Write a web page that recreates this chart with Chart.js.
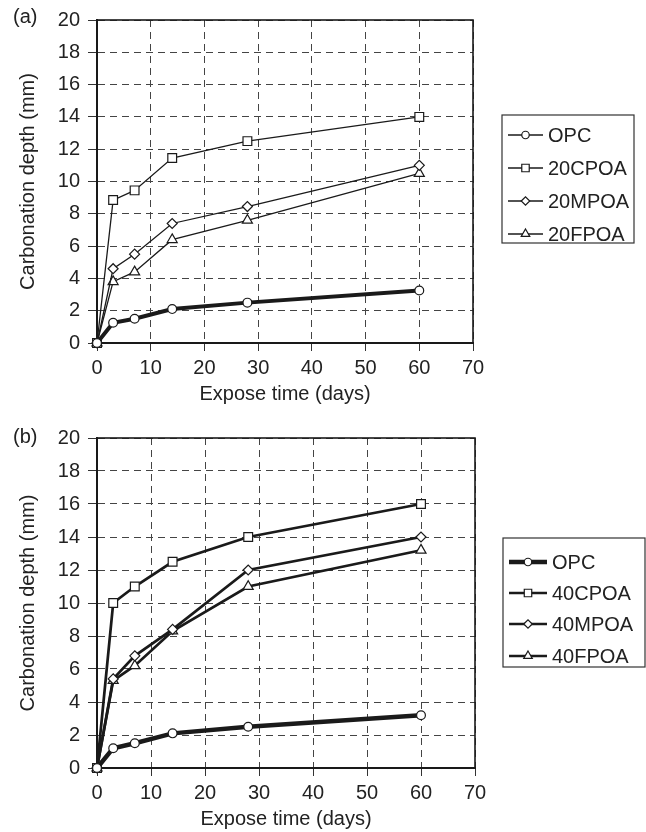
<!DOCTYPE html>
<html>
<head>
<meta charset="utf-8">
<script src="https://cdn.jsdelivr.net/npm/chart.js@4/dist/chart.umd.min.js"></script>
<style>
  body { margin: 0; background: #fff; }
  .panel { position: absolute; left: 0; width: 646px; height: 416px; }
  .tag { position: absolute; left: 13px; top: 5px; font: 20px "Liberation Sans", Arial, sans-serif; color: #222; }
</style>
</head>
<body>
<div class="panel" style="top:0">
  <canvas id="chartA" width="646" height="416"></canvas>
  <div class="tag">(a)</div>
</div>
<div class="panel" style="top:416px">
  <canvas id="chartB" width="646" height="416"></canvas>
  <div class="tag" style="top:9px">(b)</div>
</div>
<script>
const DAYS = [0, 3, 7, 14, 28, 60];
const X_TICKS = [0, 10, 20, 30, 40, 50, 60, 70];
const Y_TICKS = [0, 2, 4, 6, 8, 10, 12, 14, 16, 18, 20];

// panel (a)
const LABELS_A = ['OPC', '20CPOA', '20MPOA', '20FPOA'];
const OPC_A = [0, 1.25, 1.5, 2.1, 2.5, 3.25];
const CPOA_20 = [0, 8.85, 9.45, 11.45, 12.5, 14];
const MPOA_20 = [0, 4.6, 5.5, 7.4, 8.45, 11];
const FPOA_20 = [0, 3.8, 4.4, 6.4, 7.6, 10.5];

// panel (b)
const LABELS_B = ['OPC', '40CPOA', '40MPOA', '40FPOA'];
const OPC_B = [0, 1.2, 1.5, 2.1, 2.5, 3.2];
const CPOA_40 = [0, 10, 11, 12.5, 14, 16];
const MPOA_40 = [0, 5.4, 6.8, 8.4, 12, 14];
const FPOA_40 = [0, 5.3, 6.2, 8.3, 11, 13.2];

const FONT = '"Liberation Sans", Arial, sans-serif';
const INK = '#1a1a1a';
const MARKERS = [
  { pointStyle: 'circle', radius: 4.4 },
  { pointStyle: 'rect', radius: 6.2 },
  { pointStyle: 'rectRot', radius: 5 },
  { pointStyle: 'triangle', radius: 5.8 },
];

const frame = {
  id: 'frame',
  beforeDatasetsDraw(chart) {
    const { ctx, chartArea: a } = chart;
    ctx.save();
    ctx.strokeStyle = INK;
    ctx.lineWidth = 1.6;
    ctx.strokeRect(a.left, a.top, a.right - a.left, a.bottom - a.top);
    ctx.restore();
  },
};

// boxed legend with line + marker samples
const boxLegend = {
  id: 'boxLegend',
  afterDraw(chart, args, opts) {
    const { ctx } = chart;
    ctx.save();
    ctx.strokeStyle = '#333';
    ctx.lineWidth = 1.2;
    ctx.strokeRect(opts.x, opts.y, opts.w, opts.h);
    ctx.font = '20px ' + FONT;
    ctx.textBaseline = 'middle';
    chart.data.datasets.forEach((ds, i) => {
      const y = opts.rows[i];
      const mid = (opts.x0 + opts.x1) / 2;
      ctx.strokeStyle = INK;
      ctx.lineWidth = opts.widths[i];
      ctx.beginPath();
      ctx.moveTo(opts.x0, y);
      ctx.lineTo(opts.x1, y);
      ctx.stroke();
      ctx.fillStyle = '#fff';
      ctx.lineWidth = 1.2;
      Chart.helpers.drawPoint(ctx, {
        pointStyle: ds.pointStyle,
        radius: ds.pointRadius * 0.85,
        borderWidth: 1.2,
      }, mid, y);
      ctx.fillStyle = '#222';
      ctx.fillText(ds.label, opts.textX, y + 1);
    });
    ctx.restore();
  },
};

const buildChart = (id, labels, series, widths, geom) => {
  const datasets = series.map((values, i) => ({
    label: labels[i],
    data: values.map((v, j) => ({ x: DAYS[j], y: v })),
    borderColor: INK,
    borderWidth: widths[i],
    pointStyle: MARKERS[i].pointStyle,
    pointRadius: MARKERS[i].radius,
    pointBackgroundColor: '#fff',
    pointBorderColor: INK,
    pointBorderWidth: 1.2,
    clip: false,
  }));

  return new Chart(document.getElementById(id), {
    type: 'line',
    data: { datasets },
    plugins: [frame, boxLegend],
    options: {
      responsive: false,
      animation: false,
      devicePixelRatio: 1,
      layout: { padding: { top: geom.top, right: geom.right, left: 0, bottom: 0 } },
      plugins: {
        legend: { display: false },
        tooltip: { enabled: false },
        boxLegend: geom.legend,
      },
      scales: {
        x: {
          type: 'linear',
          min: 0,
          max: 70,
          afterBuildTicks: (s) => { s.ticks = X_TICKS.map(v => ({ value: v })); },
          afterFit: (s) => { s.height = geom.xHeight; },
          ticks: { color: '#222', font: { family: FONT, size: 20 }, padding: 5, maxRotation: 0 },
          grid: { color: '#444', lineWidth: 1, tickLength: 8, tickColor: '#333' },
          border: { color: INK, width: 2, dash: [7, 5] },
          title: {
            display: true,
            text: 'Expose time (days)',
            color: '#222',
            font: { family: FONT, size: 20 },
            padding: { top: 0, bottom: geom.titlePad },
          },
        },
        y: {
          min: 0,
          max: 20,
          afterBuildTicks: (s) => { s.ticks = Y_TICKS.map(v => ({ value: v })); },
          afterFit: (s) => { s.width = 97; },
          ticks: { color: '#222', font: { family: FONT, size: 20 }, padding: 8 },
          grid: { color: '#444', lineWidth: 1, tickLength: 9, tickColor: '#333' },
          border: { color: INK, width: 2, dash: [7, 5] },
          title: {
            display: true,
            text: 'Carbonation depth (mm)',
            color: '#222',
            font: { family: FONT, size: 20 },
            padding: { top: 16, bottom: 0 },
          },
        },
      },
    },
  });
};

buildChart('chartA', LABELS_A, [OPC_A, CPOA_20, MPOA_20, FPOA_20], [4, 1.3, 1.3, 1.3], {
  top: 16, right: 173, xHeight: 73, titlePad: 10,
  legend: {
    x: 502, y: 115, w: 132, h: 128, rows: [135, 168, 201, 234],
    x0: 508, x1: 543, textX: 548, widths: [1.3, 1.3, 1.3, 1.3],
  },
});

buildChart('chartB', LABELS_B, [OPC_B, CPOA_40, MPOA_40, FPOA_40], [4.5, 2.7, 2.7, 2.7], {
  top: 22, right: 171, xHeight: 64, titlePad: 1,
  legend: {
    x: 503, y: 122, w: 142, h: 129, rows: [146, 177, 208, 240],
    x0: 509, x1: 547, textX: 552, widths: [4.5, 2.7, 2.7, 2.7],
  },
});
</script>
</body>
</html>
